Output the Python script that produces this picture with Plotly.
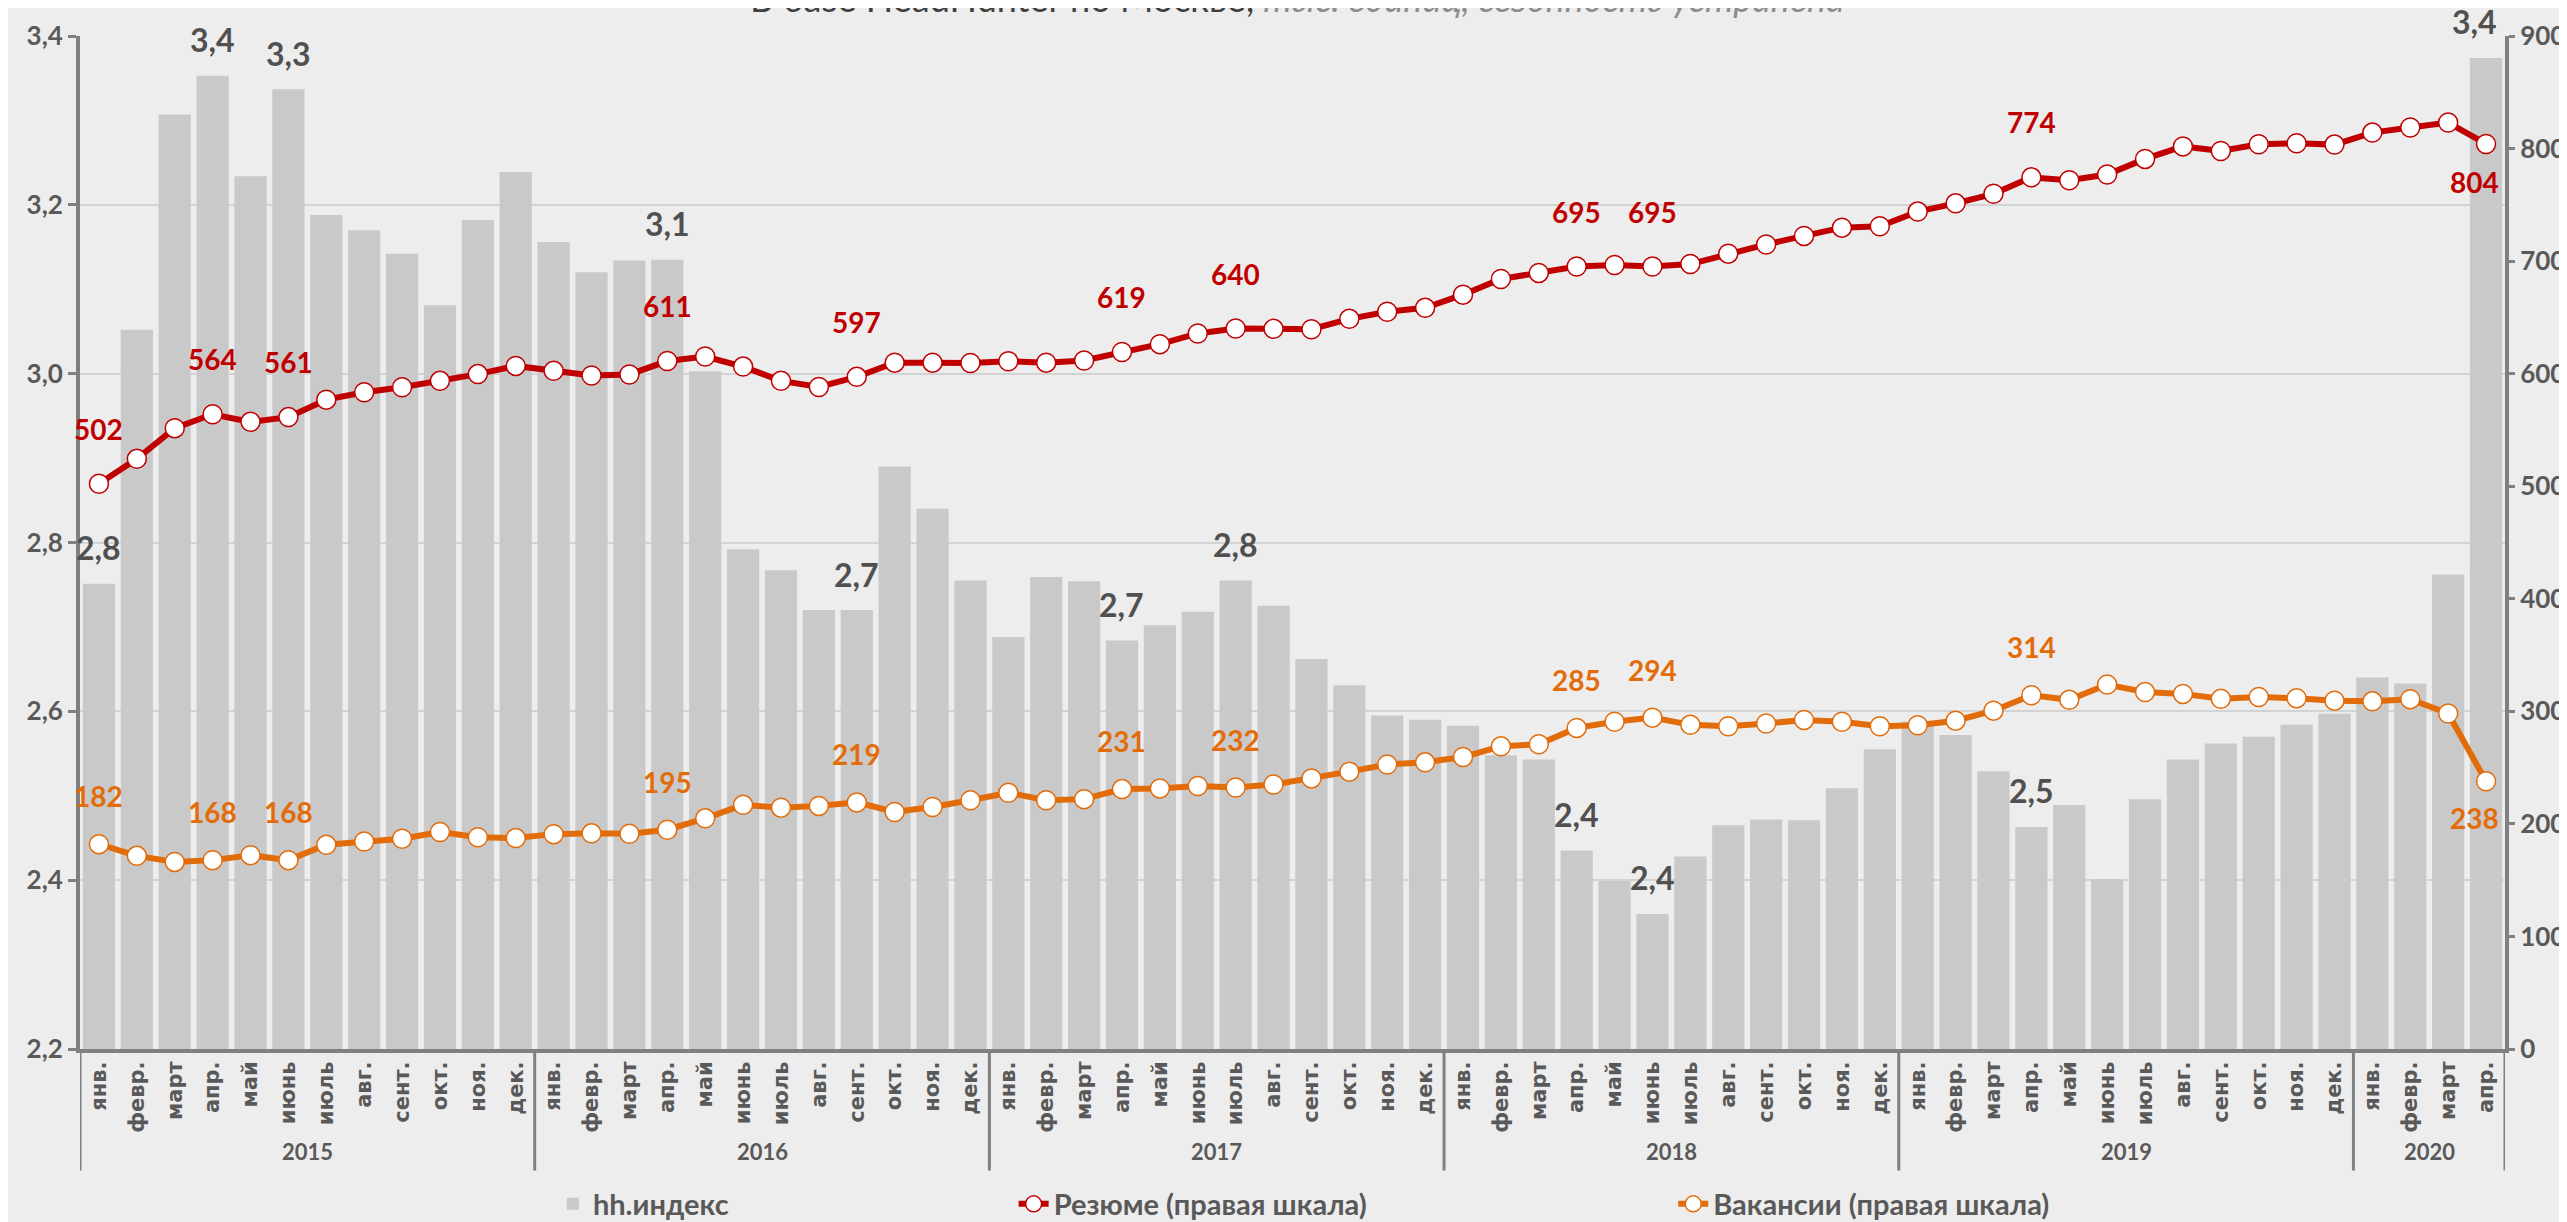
import plotly.graph_objects as go

# ---------------- data ----------------
years_list = ["2015", "2016", "2017", "2018", "2019", "2020"]
month_names = ["янв.", "февр.", "март", "апр.", "май", "июнь", "июль",
               "авг.", "сент.", "окт.", "ноя.", "дек."]
months_per_year = [12, 12, 12, 12, 12, 4]

hh_index = [2.751, 3.052, 3.307, 3.353, 3.234, 3.337, 3.188, 3.170, 3.142, 3.081, 3.182, 3.239,
            3.156, 3.120, 3.134, 3.135, 3.003, 2.792, 2.767, 2.720, 2.720, 2.890, 2.840, 2.755,
            2.688, 2.759, 2.754, 2.684, 2.702, 2.718, 2.755, 2.725, 2.662, 2.631, 2.595, 2.590,
            2.583, 2.548, 2.543, 2.435, 2.399, 2.360, 2.428, 2.465, 2.472, 2.471, 2.509, 2.555,
            2.588, 2.572, 2.529, 2.463, 2.489, 2.401, 2.496, 2.543, 2.562, 2.570, 2.584, 2.597,
            2.640, 2.633, 2.762, 3.374]

resume = [502.2, 524.3, 551.6, 563.9, 557.2, 561.4, 576.9, 583.5, 587.9, 593.6, 599.6, 606.9,
          602.5, 598.4, 599.3, 611.2, 615.2, 606.3, 593.6, 588.2, 597.2, 609.8, 609.8, 609.5,
          611.0, 609.8, 611.7, 619.3, 626.2, 635.7, 640.1, 639.8, 639.5, 648.7, 655.0, 658.5,
          670.2, 684.1, 689.5, 695.2, 696.5, 695.2, 697.4, 706.6, 714.8, 722.4, 729.7, 731.0,
          744.0, 751.3, 759.8, 774.4, 771.8, 776.9, 790.8, 801.9, 797.8, 803.8, 804.7, 803.5,
          814.2, 818.7, 823.1, 804.1]

vacancies = [182.0, 171.6, 166.2, 167.8, 172.2, 167.8, 181.4, 184.3, 186.8, 192.8, 188.1, 187.4,
             190.9, 191.6, 191.2, 194.8, 204.9, 216.9, 214.4, 216.0, 219.1, 210.6, 215.0, 221.0,
             227.7, 221.0, 222.0, 230.9, 231.5, 233.7, 232.3, 235.0, 240.4, 246.4, 252.8, 254.7,
             259.4, 268.9, 270.8, 285.3, 290.8, 294.4, 288.0, 286.7, 289.2, 292.4, 290.8, 286.7,
             287.6, 291.7, 300.6, 314.3, 310.2, 323.8, 317.1, 315.5, 311.1, 312.7, 311.7, 309.5,
             308.9, 310.8, 298.1, 237.9]

# indices of labelled points (same for all three series)
label_idx = [0, 3, 5, 15, 20, 27, 30, 39, 41, 51, 63]

# ---------------- derived ----------------
months = []
years = []
for y, n in zip(years_list, months_per_year):
    months += month_names[:n]
    years += [y] * n
xs = list(range(len(months)))
last = len(months) - 1

GREY_TXT = "#595959"
AXIS = "#808080"
BAR = "#C9C9C9"
RED = "#C00000"
ORANGE = "#E36C0A"
BG = "#EDEDED"
FONT = "Lato, Carlito, Calibri, sans-serif"

fig = go.Figure()
fig.add_trace(go.Bar(x=xs, y=hh_index, name="hh.индекс", marker_color=BAR,
                     marker_line_width=0, legend="legend", showlegend=True))
fig.add_trace(go.Scatter(x=xs, y=resume, yaxis="y2", name="Резюме (правая шкала)",
                         mode="lines+markers", legend="legend2", showlegend=True,
                         line=dict(color=RED, width=6),
                         marker=dict(size=19, color="white", line=dict(color=RED, width=1.5))))
fig.add_trace(go.Scatter(x=xs, y=vacancies, yaxis="y2", name="Вакансии (правая шкала)",
                         mode="lines+markers", legend="legend3", showlegend=True,
                         line=dict(color=ORANGE, width=6),
                         marker=dict(size=19, color="white", line=dict(color=ORANGE, width=1.5))))

ann = []
lab_font = dict(family=FONT, size=28, weight="bold")
bar_font = dict(family=FONT, size=32, weight="bold", color="#505050")
for i in label_idx:
    dx = -12 if i == last else 0
    below = (i == last)
    ann.append(dict(x=xs[i], y=hh_index[i], xref="x", yref="y",
                    text=f"{hh_index[i]:.1f}".replace(".", ","), showarrow=False,
                    yanchor="middle", yshift=36, xshift=dx, font=bar_font))
    ann.append(dict(x=xs[i], y=resume[i], xref="x", yref="y2",
                    text=f"{round(resume[i])}", showarrow=False,
                    yanchor="middle", yshift=-38 if below else 55, xshift=dx,
                    font=dict(lab_font, color=RED)))
    ann.append(dict(x=xs[i], y=vacancies[i], xref="x", yref="y2",
                    text=f"{round(vacancies[i])}", showarrow=False,
                    yanchor="middle", yshift=-37 if below else 48, xshift=dx,
                    font=dict(lab_font, color=ORANGE)))

# year group labels and dividers
shapes = []
start = 0
bounds = [-0.5]
for y, n in zip(years_list, months_per_year):
    center = start + (n - 1) / 2
    ann.append(dict(x=center, y=-0.101, xref="x", yref="paper", text=y, showarrow=False,
                    yanchor="middle", font=dict(family=FONT, size=22, weight="bold", color=GREY_TXT)))
    start += n
    bounds.append(start - 0.5)
for b in bounds:
    shapes.append(dict(type="line", xref="x", yref="paper", x0=b, x1=b, y0=0, y1=-0.12,
                       line=dict(color=AXIS, width=3)))

# title (cut at the top like the original)
ann.append(dict(x=0.502, y=1.0135, xref="paper", yref="paper", showarrow=False,
                yanchor="bottom",
                text="В базе HeadHunter по Москве, <i><span style='color:#8C8C8C'>тыс. единиц, сезонность устранена</span></i>",
                font=dict(family=FONT, size=36, color="#404040")))

leg_common = dict(orientation="h", yanchor="middle", y=-0.153, xanchor="left",
                  bgcolor="rgba(0,0,0,0)",
                  font=dict(family=FONT, size=29, weight="bold", color=GREY_TXT))

fig.update_layout(
    width=2567, height=1222,
    margin=dict(l=72, r=70, t=28, b=181, autoexpand=False),
    paper_bgcolor=BG, plot_bgcolor=BG,
    separators=", ",
    bargap=0.15,
    showlegend=True,
    font=dict(family=FONT, color=GREY_TXT),
    xaxis=dict(range=[-0.5, last + 0.5], tickvals=xs, ticktext=months, tickangle=-90,
               tickfont=dict(family="DejaVu Sans, Verdana, sans-serif", size=21,
                             weight="bold", color=GREY_TXT),
               showline=True, linecolor=AXIS, linewidth=4, ticks="", showgrid=False,
               zeroline=False),
    yaxis=dict(range=[2.2, 3.4], dtick=0.2, tick0=2.2, tickformat=".1f",
               showgrid=True, gridcolor="#D3D3D3", gridwidth=2,
               showline=True, linecolor=AXIS, linewidth=4,
               ticks="outside", ticklen=8, tickwidth=3, tickcolor=AXIS,
               tickfont=dict(family=FONT, size=26, weight="bold", color=GREY_TXT),
               zeroline=False),
    yaxis2=dict(range=[0, 900], dtick=100, overlaying="y", side="right",
                showgrid=False, showline=True, linecolor=AXIS, linewidth=4,
                ticks="outside", ticklen=6, tickwidth=3, tickcolor=AXIS,
                tickfont=dict(family=FONT, size=26, weight="bold", color=GREY_TXT),
                zeroline=False),
    legend=dict(leg_common, x=0.195),
    legend2=dict(leg_common, x=0.385),
    legend3=dict(leg_common, x=0.657),
    annotations=ann,
    shapes=shapes,
)

fig.write_html("out.html")
